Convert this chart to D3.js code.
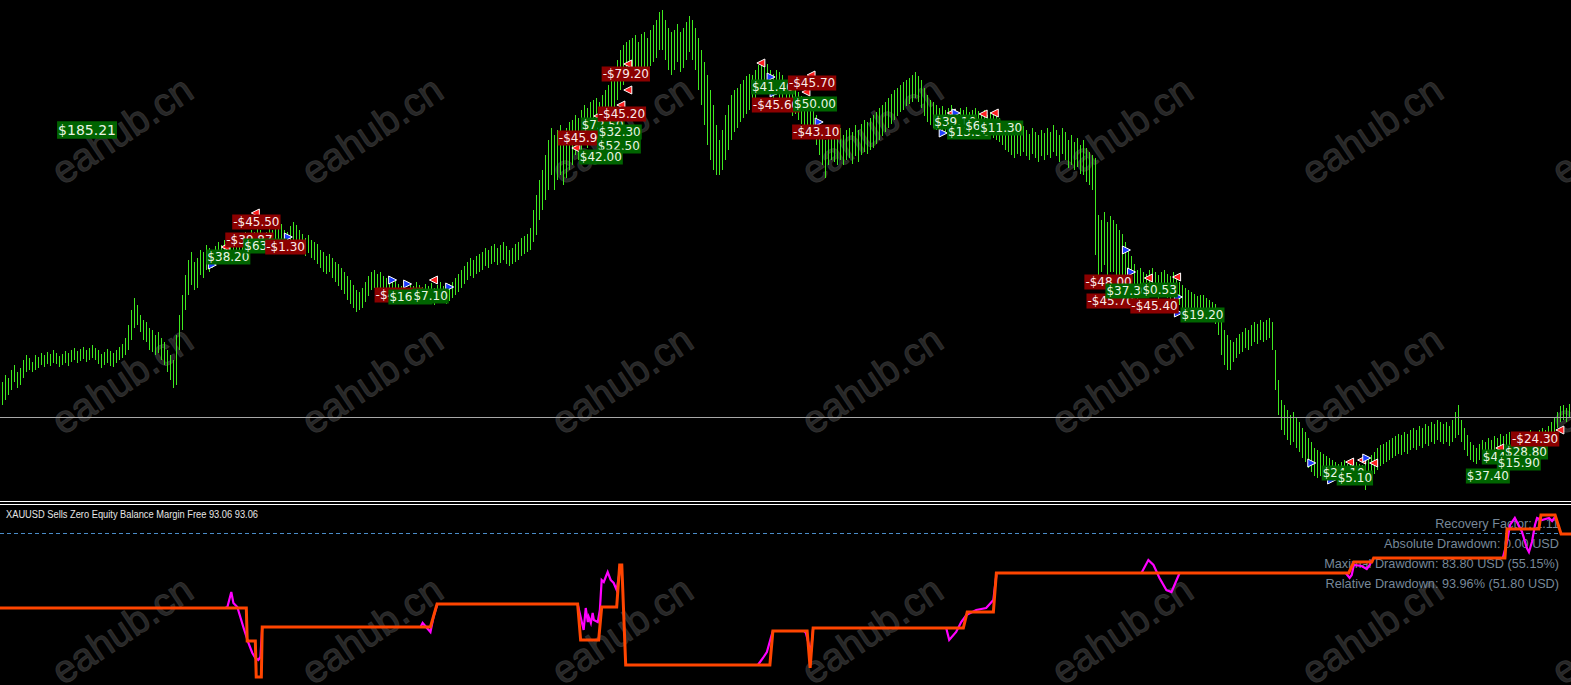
<!DOCTYPE html>
<html><head><meta charset="utf-8">
<script src="https://cdn.jsdelivr.net/npm/d3@7"></script>
<style>body{margin:0;background:#000;overflow:hidden}svg{display:block}</style>
</head><body><svg id="c" width="1571" height="685"></svg>
<script>
// ---- price bars (arbitrary price points) ----
const barHigh = [
118,125,122,130,135,128,132,140,145,142, 138,145,143,147,145,148,146,150,147,144,
146,149,147,150,152,149,151,153,150,152, 155,152,150,146,148,151,149,147,150,153,
156,162,175,190,202,195,185,180,178,172, 170,165,168,162,158,150,145,140,165,185,
205,225,240,248,238,242,250,248,255,252, 250,254,258,255,260,262,258,263,265,262,
266,268,264,270,268,272,270,266,268,272, 270,274,272,276,270,268,274,278,275,270,
266,262,265,260,258,256,250,248,244,246, 242,238,236,232,228,224,220,215,210,208,
212,218,224,228,230,226,228,224,222,220, 218,220,216,214,218,212,216,214,218,215,
213,216,214,217,212,215,218,214,212,216, 218,222,226,230,234,238,242,240,244,246,
248,252,250,254,256,252,255,258,254,250, 252,256,258,262,264,266,272,290,305,320,
330,345,360,372,365,370,375,368,372,378, 380,385,382,390,395,392,398,400,402,398,
405,410,415,420,428,440,450,455,458,460, 462,465,458,466,468,462,470,475,480,488,
490,480,472,468,470,476,468,472,478,484, 480,472,462,450,438,425,410,395,375,360,
370,385,395,405,410,412,416,420,424,426, 425,430,435,438,440,436,430,426,430,428,
425,420,415,410,412,408,404,400,398,395, 390,385,380,370,360,372,375,370,368,372,
365,370,372,368,375,370,376,380,378,382, 385,388,392,395,398,402,406,410,412,415,
418,420,422,425,428,424,420,412,405,400, 398,395,392,394,390,392,395,390,388,392,
390,393,388,390,392,389,387,390,385,388, 386,384,382,378,375,372,370,368,372,370,
374,370,366,372,368,365,370,367,372,368, 375,370,365,372,368,360,365,358,362,355,
360,352,348,345,342,285,280,288,278,284, 280,276,270,266,258,250,244,236,230,232,
228,226,230,232,228,225,228,230,226,224, 228,222,218,215,212,210,208,206,204,205,
205,202,200,198,196,190,180,170,165,160, 158,162,166,168,172,170,175,178,176,180,
178,180,182,178,150,120,100,95,90,85, 88,82,78,72,68,62,58,52,50,48,
46,44,42,40,38,36,38,40,36,38, 40,38,36,35,38,42,45,48,52,55,
56,58,60,62,64,66,65,68,66,70, 72,70,74,72,76,74,78,76,80,78,
76,78,74,80,88,95,80,72,65,58, 55,52,56,60,58,62,60,64,62,66,
64,66,68,65,62,66,68,64,66,70, 68,66,70,72,70,74,78,82,88,94,
95,92,96];
const barLow = [
95,100,105,110,118,112,115,122,128,130, 128,130,132,135,133,136,134,137,136,133,
135,137,134,138,140,137,139,141,138,140, 142,140,136,132,135,137,134,133,137,140,
142,145,150,160,172,175,168,160,158,150, 148,145,147,140,135,128,120,112,115,150,
170,190,205,215,210,212,225,222,230,228, 232,235,240,238,242,245,240,246,248,244,
250,252,248,254,250,256,252,250,252,255, 252,256,255,258,254,250,255,258,256,252,
246,244,247,242,240,236,232,228,226,228, 222,218,214,210,206,200,196,192,188,190,
192,198,204,210,212,208,210,206,204,202, 200,202,198,196,200,196,198,197,200,198,
196,198,196,199,195,198,200,197,196,199, 202,205,208,212,216,220,224,222,226,228,
230,234,232,236,238,235,237,240,236,234, 236,238,240,244,246,248,250,258,265,280,
290,300,310,325,310,320,325,315,322,330, 335,345,340,350,355,352,360,362,368,360,
365,372,378,385,392,400,410,415,420,425, 425,428,420,430,432,426,434,438,442,450,
450,440,430,425,430,438,428,432,440,448, 440,430,410,395,375,355,340,330,325,325,
330,340,350,360,368,372,378,382,386,390, 398,402,408,410,414,410,404,400,405,402,
398,392,388,384,386,380,376,372,370,368, 362,355,345,335,322,335,340,338,335,340,
335,340,342,336,344,338,345,348,346,350, 352,356,360,364,368,372,376,380,384,388,
390,394,396,398,402,398,392,384,378,375, 372,370,368,370,366,368,371,366,364,368,
366,368,364,366,368,365,362,366,362,364, 362,360,358,355,350,348,345,342,346,344,
348,344,340,346,342,338,344,340,345,342, 348,344,338,346,340,332,335,330,333,326,
325,318,315,310,245,225,228,235,220,228, 228,222,220,218,212,210,206,200,200,202,
204,202,206,208,204,200,204,206,202,200, 204,198,195,192,190,188,186,185,182,184,
185,182,180,178,176,165,145,135,130,130, 138,142,146,148,152,150,154,158,156,160,
158,160,162,150,110,85,70,65,60,55, 58,52,48,42,38,32,28,24,22,24,
26,24,22,20,20,22,20,22,20,22, 22,20,18,15,10,18,22,26,30,34,
36,38,40,42,44,46,45,48,46,50, 52,50,54,52,56,54,58,56,60,58,
56,58,54,58,62,65,58,50,44,40, 38,36,40,44,42,46,44,48,46,50,
48,50,52,48,46,50,52,48,50,54, 52,50,54,56,54,58,62,66,72,78,
80,78,82];
const refLevel = 83;

// ---- balance (USD) step line: [bar time, value] ----
const balanceTime  = [0,82,82.3,85,85.3,87,87.3,143.3,145.5,192.3,193.3,199.3,200.3,205.3,206.3,207,208.3,256.3,257.3,268.7,269.7,270.7,320.7,322,330.7,331.7,449,450.7,456.7,457.3,501,501.7,512.3,513,517.7,519.7,523];
const balanceValue = [99,99,66,66,30,30,80,80,103,103,67,67,100,100,142,142,42,42,76,76,39,79,79,95,95,134,134,145,145,149,149,178,178,192,192,173,173];

// ---- equity excursions (USD) ----
const equitySegments = [
  [[75,99],[75.7,100],[77,115],[77.7,104],[79,100],[80,90],[81,80],[82.7,64],[84,54],[85,49],[86,47],[86.7,50],[87.3,80]],
  [[140,80],[140.7,84],[143.3,75],[144.3,90],[145.7,104]],
  [[192.3,103],[193.3,90],[194.3,77],[195,99],[195.7,85],[196,90],[196.7,84],[197.3,94],[197.7,87],[199,85],[199.7,97],[200.3,127],[201,125],[202.3,135],[203.3,127],[204.3,124],[205.3,117],[206,130],[206.7,142]],
  [[252.3,42],[254,49],[255.3,55],[256.7,70],[257.3,76]],
  [[267.7,76],[268.3,74],[269.3,62],[270,55],[270.7,79]],
  [[315,79],[316,67],[318.3,75],[320,85],[321.7,92],[325,97],[328.3,99],[330.7,107],[331.7,132]],
  [[380,134],[382.3,147],[384,142],[386,129],[388.3,117],[390,115],[391.7,127],[392.7,134]],
  [[448,134],[449.3,129],[450,132],[450.7,142],[453.3,141],[455,138],[456,142],[456.7,147]],
  [[500.3,149],[501.7,165],[502.7,182],[504.3,189],[506.7,175],[508.3,159],[509,155],[510,165],[511,182],[511.7,189],[513.3,187],[515.7,189],[516.7,186],[517.7,190]]
];

// ---- trade result labels ----
const labelText  = ["$185.21","-$45.50","-$39.87","$38.20","$63.60","-$1.30","-$45.80","$16.50","$7.10",
  "-$79.20","$72.50","-$45.20","-$45.90","$32.30","$52.50","$42.00",
  "$41.40","-$45.70","-$45.60","$50.00","-$43.10",
  "$39.10","$13.50","$6.80","$11.30",
  "-$48.00","-$45.70","$37.30","$0.53","-$45.40","$19.20",
  "$24.10","$5.10","$44.10","$37.40","$28.80","$15.90","-$24.30"];
const labelTime  = [19,77.3,75,68.7,81,88.3,124.7,129.3,137.3,
  200.3,193.3,199,185.7,199,198.7,192.7,
  250,262.3,250.3,264,263.7,
  310.7,315.3,321,326,
  361,361.7,368,380,376.3,393,
  440,445,493.3,488,500.7,498.3,503];
const labelPrice = [370,278,260,243,254,253,205,203,204,
  426,375,386,362,368,354,343,
  413,417,395,396,368,
  378,368,374,372,
  218,199,209,210,194,185,
  27,22,43,24,48,37,61];
const labelSize  = [14,12,12,12,12,12,12,12,12, 12,12,12,12,12,12,12, 12,12,12,12,12, 12,12,12,12, 12,12,12,12,12,12, 12,12,12,12,12,12,12];

// ---- trade arrows ----
const markTime  = [85,75,96,70.7,130.7,144.3,149.7,135.7, 209,209,206.7,191.7,199, 253.3,256.7,270,268.3,257.7,272.7, 316.7,318.3,327.3,331,314, 376.7,382.3,391.7,392.3,392.3,375, 436.7,443.3,449.3,453.3,455,457.3,499.3,519.3];
const markPrice = [287,253,263,235,220,220,213,216, 436,410,395,352,384, 437,423,425,408,407,378, 387,387,386,387,367, 228,222,223,203,187,250, 37,20,38,40,42,37,52,70];
const markKind  = ["r","r","b","b","b","r","b","b", "r","r","r","r","r", "r","b","r","r","b","b", "r","b","r","r","b", "b","r","r","b","b","b", "b","b","r","r","b","r","r","r"];

const watermark = "eahub.cn";
const wmCols = [122,372,622,872,1122,1372,1622];
const wmRows = [130,380,630];

const panelTitle = "XAUUSD Sells Zero Equity Balance Margin Free 93.06 93.06";
const statsLines = ["Recovery Factor: 1.11","Absolute Drawdown: 0.00 USD","Maximal Drawdown: 83.80 USD (55.15%)","Relative Drawdown: 93.96% (51.80 USD)"];

// ================= drawing =================
const svg = d3.select("#c");
const W = 1571, H = 685;
const xs = d3.scaleLinear().domain([0, 523]).range([0, W]);
const ys = d3.scaleLinear().domain([0, 500]).range([500, 0]);
const yb = d3.scaleLinear().domain([0, 200]).range([707, 507]);

svg.append("rect").attr("width", W).attr("height", H).attr("fill", "#000");

// watermarks
const wm = svg.append("g");
wmRows.forEach(r => wmCols.forEach(c => {
  wm.append("text").attr("x", c).attr("y", r).attr("text-anchor", "middle").attr("dominant-baseline", "central")
    .attr("transform", `rotate(-34 ${c} ${r})`)
    .attr("font-family", "Liberation Sans, Arial, sans-serif").attr("font-size", 39)
    .attr("fill", "#262626").attr("stroke", "#303030").attr("stroke-width", 1).text(watermark);
}));

// bars
svg.append("g").attr("shape-rendering", "crispEdges").selectAll("line").data(barHigh).join("line")
  .attr("x1", (d, i) => Math.round(xs(i + 0.5)) + 0.5).attr("x2", (d, i) => Math.round(xs(i + 0.5)) + 0.5)
  .attr("y1", d => ys(d)).attr("y2", (d, i) => ys(barLow[i]))
  .attr("stroke", "#3fe81f").attr("stroke-width", 1);

// reference level
svg.append("line").attr("x1", 0).attr("x2", W).attr("y1", Math.round(ys(refLevel)) + 0.5).attr("y2", Math.round(ys(refLevel)) + 0.5)
  .attr("stroke", "#a8a8a8").attr("stroke-width", 1);

// trade arrows
const mk = svg.append("g");
markTime.forEach((t, i) => {
  const x = xs(t), y = ys(markPrice[i]);
  const dir = markKind[i] === "b" ? 1 : -1;
  mk.append("path").attr("d", `M${x - 4 * dir},${y - 4}L${x + 4 * dir},${y}L${x - 4 * dir},${y + 4}Z`)
    .attr("fill", markKind[i] === "b" ? "#1e3cff" : "#ff1e1e").attr("stroke", "#fff").attr("stroke-width", 1);
});

// labels
const lg = svg.append("g");
labelText.forEach((txt, i) => {
  const g = lg.append("g");
  const fs = labelSize[i];
  const x = xs(labelTime[i]), cy = ys(labelPrice[i]);
  const hgt = fs * 1.25;
  const neg = txt.startsWith("-");
  const r = g.append("rect").attr("fill", neg ? "#8b0000" : "#006400");
  const t = g.append("text").attr("x", x + 1).attr("y", cy + fs * 0.37)
    .attr("font-family", "DejaVu Sans, Verdana, sans-serif").attr("font-size", fs)
    .attr("fill", neg ? "#fbeaea" : "#eaf5e4").text(txt);
  const w = t.node().getComputedTextLength();
  r.attr("x", x).attr("y", cy - hgt / 2).attr("width", w + 2).attr("height", hgt);
});

// panel separator
svg.append("line").attr("x1", 0).attr("x2", W).attr("y1", 501.5).attr("y2", 501.5).attr("stroke", "#fff");
svg.append("line").attr("x1", 0).attr("x2", W).attr("y1", 504.5).attr("y2", 504.5).attr("stroke", "#fff");

svg.append("text").attr("x", 6).attr("y", 518).attr("font-family", "Liberation Sans, Arial, sans-serif").attr("font-size", 10)
  .attr("textLength", 252).attr("lengthAdjust", "spacingAndGlyphs").attr("fill", "#e6e6e6").text(panelTitle);

svg.append("line").attr("x1", 0).attr("x2", W).attr("y1", 533.5).attr("y2", 533.5)
  .attr("stroke", "#4a8cc8").attr("stroke-dasharray", "4,3");

svg.append("g").selectAll("text").data(statsLines).join("text")
  .attr("x", 1559).attr("y", (d, i) => 528 + i * 20).attr("text-anchor", "end")
  .attr("font-family", "Liberation Sans, Arial, sans-serif").attr("font-size", 12.7)
  .attr("fill", "#778899").text(d => d);

// equity and balance
const ln = d3.line().x(d => xs(d[0])).y(d => yb(d[1]));
svg.append("g").selectAll("path").data(equitySegments).join("path")
  .attr("d", ln).attr("fill", "none").attr("stroke", "#ff00ff").attr("stroke-width", 2.2);
svg.append("path").attr("d", ln(balanceTime.map((t, i) => [t, balanceValue[i]])))
  .attr("fill", "none").attr("stroke", "#ff4500").attr("stroke-width", 3);
</script></body></html>
